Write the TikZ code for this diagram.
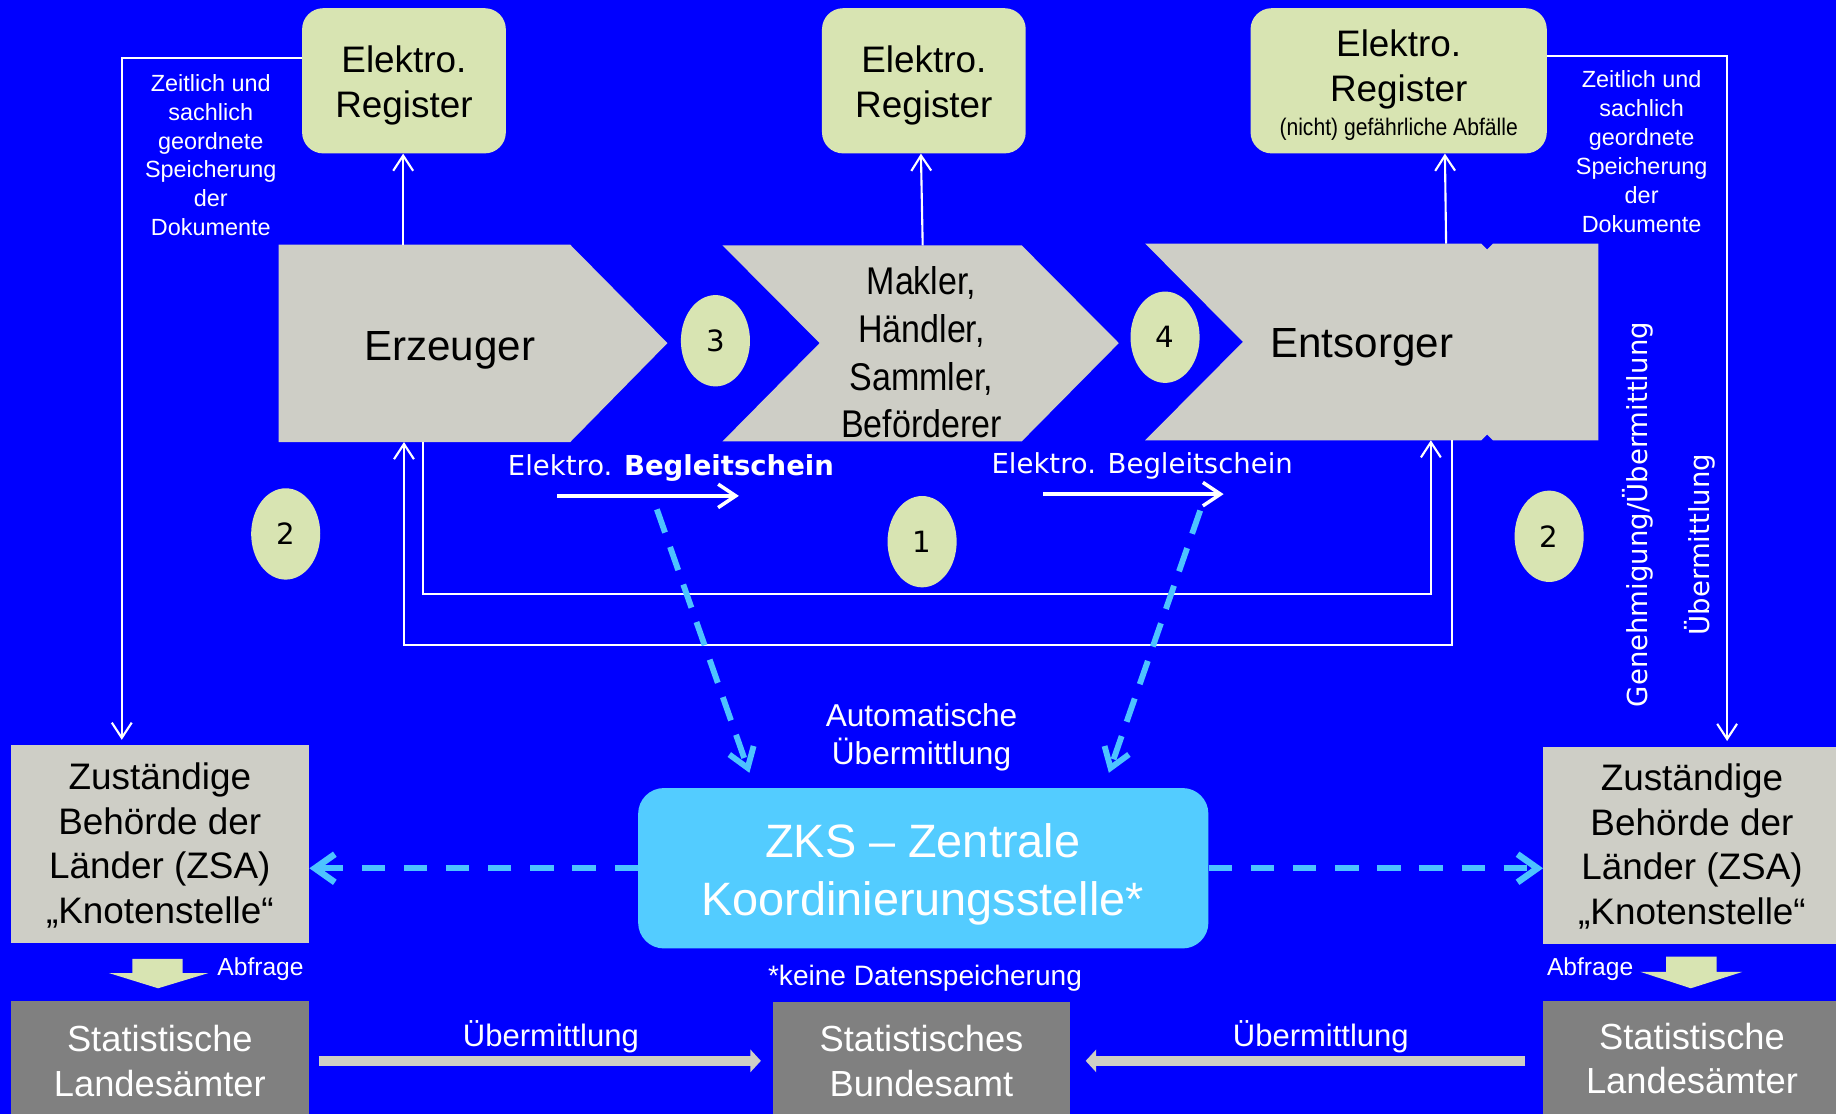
\documentclass[tikz,border=0pt]{standalone}
\usepackage{fontspec}
\setmainfont{Liberation Sans}
\newfontfamily\dv{DejaVu Sans}
\newfontfamily\sqz[FakeStretch=0.88]{Liberation Sans}
\usetikzlibrary{arrows.meta,shapes.geometric}
\definecolor{bgblue}{RGB}{0,0,255}
\definecolor{lgreen}{RGB}{216,228,178}
\definecolor{chev}{RGB}{206,206,198}
\definecolor{dgrey}{RGB}{128,128,128}
\definecolor{zksblue}{RGB}{83,204,255}
\definecolor{dashblue}{RGB}{77,195,255}
\tikzset{
 regbox/.style={fill=lgreen, rounded corners=18pt, inner sep=0pt},
 regtxt/.style={align=center, font=\fontsize{31.5}{38}\selectfont, inner sep=0pt},
 chevtxt/.style={font=\fontsize{36}{43}\selectfont, inner sep=0pt},
 sidetxt/.style={text=white, align=center, font=\fontsize{20}{24.6}\selectfont, inner sep=0pt},
 num/.style={ellipse, fill=lgreen, minimum width=59pt, minimum height=78pt, inner sep=0pt, font=\dv\fontsize{25}{30}\selectfont},
 thinarr/.style={white, line width=1.8pt, -{Straight Barb[length=13pt,width=17pt]}},
 docarr/.style={white, line width=3pt, -{Straight Barb[length=15pt,width=20pt]}},
 bluedash/.style={dashblue, line width=5pt, dash pattern=on 21pt off 13pt, -{Straight Barb[length=16pt,width=22pt]}},
 hdash/.style={dashblue, line width=5.5pt, dash pattern=on 20pt off 16pt, -{Straight Barb[length=17pt,width=24pt]}},
 wtxt/.style={text=white, inner sep=0pt},
 zsabox/.style={fill=chev, inner sep=0pt},
 zsatxt/.style={align=center, font=\fontsize{31.5}{38}\selectfont, inner sep=0pt},
 statbox/.style={fill=dgrey, inner sep=0pt},
 stattxt/.style={text=white, align=center, font=\fontsize{31}{38}\selectfont, inner sep=0pt},
 bigarr/.style={chev, line width=9pt, -{Triangle[length=9pt,width=19pt]}},
 abfr/.style={fill=lgreen},
 chevshape/.style={fill=chev},
}
\begin{document}
\begin{tikzpicture}[x=1pt,y=-1pt]
\fill[bgblue] (0,0) rectangle (1568,951);
\useasboundingbox (0,0) rectangle (1568,951);

% Register boxes
\node[regbox, minimum width=174pt, minimum height=124pt] (r1) at (345,69) {};
\node[regbox, minimum width=174pt, minimum height=124pt] (r2) at (789,69) {};
\node[regbox, minimum width=253pt, minimum height=124pt] (r3) at (1194.5,69) {};
\node[regtxt] (r1t) at (345,73) {Elektro.\\Register};
\node[regtxt] (r2t) at (789,73) {Elektro.\\Register};
\node[regtxt] (r3t) at (1194.5,59.3) {Elektro.\\Register};
\node[inner sep=0pt, font=\sqz\fontsize{20.5}{24}\selectfont] (r3s) at (1194.5,110) {(nicht) gefährliche Abfälle};

% side texts
\node[sidetxt] (sideL) at (180,132.5) {Zeitlich und\\sachlich\\geordnete\\Speicherung\\der\\Dokumente};
\node[sidetxt] (sideR) at (1402,129.5) {Zeitlich und\\sachlich\\geordnete\\Speicherung\\der\\Dokumente};

% chevrons
\fill[chevshape] (238,209) -- (487,209) -- (570,293) -- (487,377.5) -- (238,377.5) -- cycle;
\fill[chevshape] (617,209.5) -- (872.5,209.5) -- (955.5,293) -- (872.5,377) -- (617,377) -- (700,293) -- cycle;
\fill[chevshape] (978,208) -- (1265,208) -- (1270,213) -- (1275,208) -- (1365,208) -- (1365,376)
   -- (1275,376) -- (1270,371) -- (1265,376) -- (978,376) -- (1061.5,292) -- cycle;
\node[chevtxt] (erz) at (384,299) {Erzeuger};
\node[align=center, inner sep=0pt, font=\sqz\fontsize{33}{40.7}\selectfont] (mak) at (787,301) {Makler,\\Händler,\\Sammler,\\Beförderer};
\node[chevtxt] (ent) at (1163,297) {Entsorger};

\coordinate (erzT) at (344.3,209);
\coordinate (makT) at (788,209.5);
\coordinate (entT) at (1235,208);
\coordinate (erzB1) at (345,377.5);
\coordinate (erzB2) at (361,377.5);
\coordinate (entB1) at (1222,376);
\coordinate (entB2) at (1240,376);

% ZSA boxes
\node[zsabox, minimum width=255pt, minimum height=169pt] (zsa1) at (136.5,720.5) {};
\node[zsabox, minimum width=250pt, minimum height=168pt] (zsa2) at (1443,722) {};
\node[zsatxt] (zsa1t) at (136.5,722) {Zuständige\\Behörde der\\Länder (ZSA)\\„Knotenstelle“};
\node[zsatxt] (zsa2t) at (1445,723) {Zuständige\\Behörde der\\Länder (ZSA)\\„Knotenstelle“};

% arrows to registers
\draw[thinarr] (erzT) -- (erzT |- r1.south);
\draw[thinarr] (makT) -- (r2.south -| 786.5,0);
\draw[thinarr] (entT) -- (r3.south -| 1234,0);

% long side lines
\draw[thinarr] (r1.west |- 0,49.3) -| ([xshift=-32.5pt,yshift=4pt]zsa1.north);
\draw[thinarr] (r3.east |- 0,47.5) -| ([xshift=32pt,yshift=5pt]zsa2.north);

% loops
\draw[thinarr] (entB2) -- ++(0,175) -| (erzB1);
\draw[thinarr] (erzB2) -- ++(0,130) -| (entB1);

% numbers
\node[num] (n2l) at (244,456) {2};
\node[num] (n3) at (611,291) {3};
\node[num] (n4) at (995,288) {4};
\node[num] (n1) at (787.5,462.6) {1};
\node[num] (n2r) at (1323,458) {2};

% Begleitschein
\node[wtxt, font=\dv\fontsize{23.5}{28}\selectfont] (bs1) at (573,399.7) {Elektro. \textbf{Begleitschein}};
\node[wtxt, font=\dv\fontsize{23.5}{28}\selectfont] (bs2) at (975.5,397.7) {Elektro. Begleitschein};
\coordinate (a1s) at (476,423.5);
\coordinate (a1e) at (631,423.5);
\coordinate (a2s) at (891,422);
\coordinate (a2e) at (1045,422);
\draw[docarr] (a1s) -- (a1e);
\draw[docarr] (a2s) -- (a2e);

% ZKS
\node[fill=zksblue, rounded corners=22pt, minimum width=487pt, minimum height=137pt, inner sep=0pt] (zks) at (788.5,741.5) {};
\node[wtxt, align=center, font=\fontsize{40}{49}\selectfont] (zkst) at (788,746.7) {ZKS – Zentrale\\Koordinierungsstelle*};
\node[wtxt, align=center, font=\fontsize{27}{32}\selectfont] (auto) at (787,629.8) {Automatische\\Übermittlung};
\node[wtxt, font=\fontsize{24}{29}\selectfont] (keine) at (790,835.5) {*keine Datenspeicherung};

% dashed diagonal arrows
\coordinate (d1s) at (561,435);
\coordinate (d1e) at (640,660);
\coordinate (d2s) at (1025,436);
\coordinate (d2e) at (947,660);
\draw[bluedash] (d1s) -- (d1e);
\draw[bluedash] (d2s) -- (d2e);

% horizontal dashed arrows
\draw[hdash] (zks.west) -- (zks.west -| zsa1.east);
\draw[hdash] (zks.east) -- (zks.east -| zsa2.west);

% Abfrage
\fill[abfr] (113,819) -- (156,819) -- (156,831) -- (178,831) -- (135,844) -- (93,831) -- (113,831) -- cycle;
\fill[abfr] (1423,817) -- (1466,817) -- (1466,830) -- (1488,830) -- (1444,844) -- (1401,830) -- (1423,830) -- cycle;
\node[wtxt, font=\fontsize{21}{25}\selectfont] (ab1) at (222.5,828) {Abfrage};
\node[wtxt, font=\fontsize{21}{25}\selectfont] (ab2) at (1358,828) {Abfrage};

% statistics boxes
\node[statbox, minimum width=255pt, minimum height=96pt] (sl1) at (136.5,903) {};
\node[statbox, minimum width=254pt, minimum height=95pt] (sb) at (787,903.5) {};
\node[statbox, minimum width=250pt, minimum height=96pt] (sl2) at (1443,903) {};
\node[stattxt] (sl1t) at (136.5,906) {Statistische\\Landesämter};
\node[stattxt] (sbt) at (787,906) {Statistisches\\Bundesamt};
\node[stattxt] (sl2t) at (1445,904) {Statistische\\Landesämter};

\draw[bigarr] ([xshift=8pt,yshift=-3pt]sl1.east) -- ([xshift=-10pt,yshift=-2.5pt]sb.west);
\draw[bigarr] ([xshift=-15pt,yshift=-3pt]sl2.west) -- ([xshift=13pt,yshift=-2.5pt]sb.east);
\node[wtxt, font=\fontsize{26.5}{31}\selectfont] (ub1) at (470.5,885.7) {Übermittlung};
\node[wtxt, font=\fontsize{26.5}{31}\selectfont] (ub2) at (1128,885.7) {Übermittlung};

% vertical texts
\node[wtxt, rotate=90, font=\dv\fontsize{23.5}{28}\selectfont] (gen) at (1399,439.5) {Genehmigung/Übermittlung};
\node[wtxt, rotate=90, font=\dv\fontsize{23.5}{28}\selectfont] (ueb) at (1452,465) {Übermittlung};
\end{tikzpicture}
\end{document}
